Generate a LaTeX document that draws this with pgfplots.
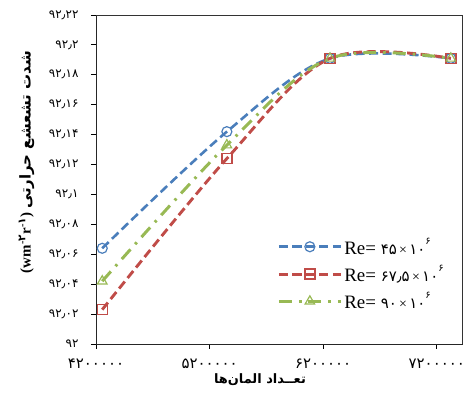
\documentclass[border=0pt]{standalone}
\usepackage{fontspec}
\setmainfont{Liberation Serif}
\newfontfamily\fa[Script=Arabic]{DejaVu Sans}
\usepackage{pgfplots}
\pgfplotsset{compat=1.18}
\TeXXeTstate=1
\definecolor{cblue}{RGB}{74,126,187}
\definecolor{cred}{RGB}{192,76,72}
\definecolor{cgreen}{RGB}{152,185,84}
\newcommand{\legf}{\fontsize{19}{21}\selectfont}
\newcommand{\legd}{\fa\fontsize{15}{17}\selectfont}
\newcommand{\legs}{\fa\fontsize{10}{12}\selectfont}
\newcommand{\legx}{\fontsize{14}{16}\selectfont\,×\,}
\begin{document}
\begin{tikzpicture}
\begin{axis}[name=ax,
  scale only axis, width=366bp, height=329bp,
  xmin=4200000, xmax=7422000, ymin=92, ymax=92.22,
  scaled x ticks=false, scaled y ticks=false,
  xtick={4200000,5200000,6200000,7200000},
  xticklabels={۴۲۰۰۰۰۰,۵۲۰۰۰۰۰,۶۲۰۰۰۰۰,۷۲۰۰۰۰۰},
  ytick={92,92.02,92.04,92.06,92.08,92.1,92.12,92.14,92.16,92.18,92.2,92.22},
  yticklabels={۹۲,۹۲٫۰۲,۹۲٫۰۴,۹۲٫۰۶,۹۲٫۰۸,۹۲٫۱,۹۲٫۱۲,۹۲٫۱۴,۹۲٫۱۶,۹۲٫۱۸,۹۲٫۲,۹۲٫۲۲},
  tick align=outside, major tick length=5bp,
  xtick pos=left, ytick pos=left,
  axis line style={black!85, line width=0.9bp},
  every tick/.style={black, line width=0.9bp},
  yticklabel style={font=\fa\fontsize{12}{14}\selectfont, xshift=-9bp},
  xticklabel style={font=\fa\fontsize{15}{17}\selectfont, yshift=-6bp},
  xlabel={\fa\bfseries\fontsize{13}{15}\selectfont \beginR تعــداد المان‌ها\endR},
  xlabel style={at={(axis description cs:0.448,-0.108)}, anchor=center},
  ylabel={\fontsize{15}{17}\selectfont\bfseries (wm\textsuperscript{-{\fa ۲}}r\textsuperscript{-{\fa ۱}}) {\fa\fontsize{15}{17}\selectfont\beginR شدت تشعشع حرارتی\endR}},
  ylabel style={at={(axis description cs:-0.19,0.553)}, anchor=center},
  legend style={at={(axis description cs:0.495,0.33)}, anchor=north west, draw=none, fill=none,
    row sep=5bp, inner sep=0pt},
  legend cell align=left,
  legend image code/.code={\draw[mark repeat=2,mark phase=2] plot coordinates {(0bp,0bp) (31bp,0bp) (62bp,0bp)};},
]
\addplot[cblue, line width=2.6bp, dash pattern=on 9bp off 4.5bp, smooth, tension=0.55,
  mark=o, mark size=5bp, mark options={solid, line width=1.2bp}]
  coordinates {(4255000,92.064) (5352000,92.142) (6260000,92.191) (7324000,92.191)};
\addlegendentry{\legf Re= {\legd ۴۵}{\legx}{\legd ۱۰}\raisebox{1.2ex}{\legs ۶}}
\addplot[cred, line width=2.9bp, dash pattern=on 9bp off 4.5bp, smooth, tension=0.55,
  mark=square, mark size=5bp, mark options={solid, line width=1.3bp}]
  coordinates {(4255000,92.023) (5352000,92.124) (6260000,92.191) (7324000,92.191)};
\addlegendentry{\legf Re= {\legd ۶۷٫۵}{\legx}{\legd ۱۰}\raisebox{1.2ex}{\legs ۶}}
\addplot[cgreen, line width=3bp, dash pattern=on 13bp off 7bp on 2.5bp off 7bp, smooth, tension=0.55,
  mark=triangle, mark size=5.5bp, mark options={solid, line width=1.2bp}]
  coordinates {(4255000,92.042) (5352000,92.133) (6260000,92.191) (7324000,92.191)};
\addlegendentry{\legf Re= {\legd ۹۰}{\legx}{\legd ۱۰}\raisebox{1.2ex}{\legs ۶}}
\end{axis}
\draw[black!80, line width=0.9bp] (ax.north west) -- (ax.north east) -- (ax.south east);
\path (ax.south west) ++(-96bp,-55bp) coordinate (bl);
\path (ax.north east) ++(11bp,15bp) coordinate (tr);
\path (bl) rectangle (tr);
\end{tikzpicture}
\end{document}
